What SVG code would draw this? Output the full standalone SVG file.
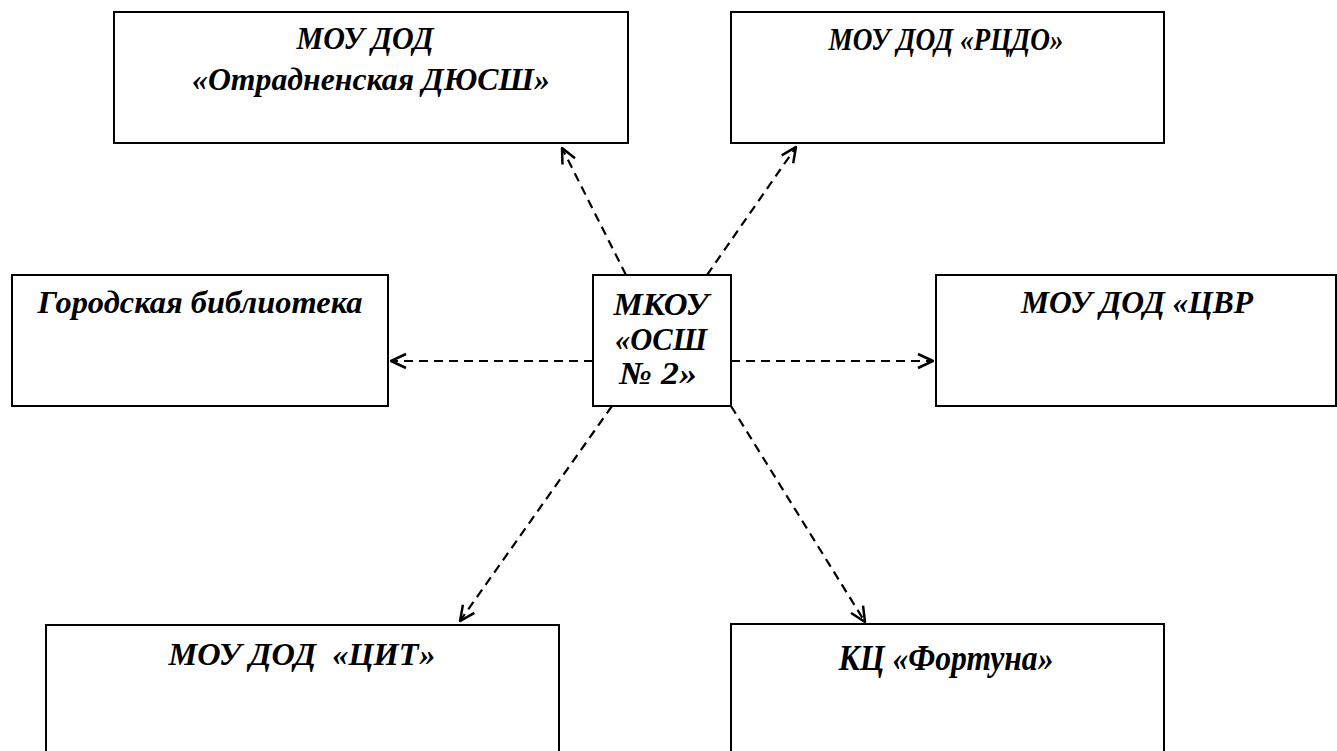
<svg xmlns="http://www.w3.org/2000/svg" width="1337" height="751" viewBox="0 0 1337 751">
<style>
.box{fill:#fff;stroke:#000;stroke-width:2}
.t{font-family:"Liberation Serif","Times New Roman",serif;font-weight:bold;font-style:italic;font-size:32px;text-anchor:middle;fill:#000}
.big{font-size:35px}
.c{fill:none;stroke:#000;stroke-width:2.2;stroke-dasharray:9 6}
</style>
<defs>
<marker id="ah" viewBox="0 0 18 18" refX="17" refY="9" markerWidth="18" markerHeight="18" markerUnits="userSpaceOnUse" orient="auto">
<path d="M2,2 L17,9 L2,16" fill="none" stroke="#000" stroke-width="2.5"/>
</marker>
</defs>
<rect width="1337" height="751" fill="#fff"/>
<g id="n1"><rect class="box" x="114" y="12" width="514" height="131"/><text class="t" x="365" y="49" textLength="137" lengthAdjust="spacingAndGlyphs">МОУ ДОД</text><text class="t" x="371" y="90" textLength="358" lengthAdjust="spacingAndGlyphs">«Отрадненская ДЮСШ»</text></g>
<g id="n2"><rect class="box" x="731" y="12" width="433" height="131"/><text class="t" x="946" y="50" textLength="235" lengthAdjust="spacingAndGlyphs">МОУ ДОД «РЦДО»</text></g>
<g id="n3"><rect class="box" x="12" y="275" width="376" height="131"/><text class="t" x="200" y="313" textLength="325" lengthAdjust="spacingAndGlyphs">Городская библиотека</text></g>
<g id="n4"><rect class="box" x="593" y="275" width="138" height="131"/><text class="t" x="661" y="315" textLength="95" lengthAdjust="spacingAndGlyphs">МКОУ</text><text class="t" x="661" y="350" textLength="92" lengthAdjust="spacingAndGlyphs">«ОСШ</text><text class="t" x="658" y="384" textLength="78" lengthAdjust="spacingAndGlyphs">№ 2»</text></g>
<g id="n5"><rect class="box" x="936" y="275" width="400" height="131"/><text class="t" x="1137" y="313" textLength="232" lengthAdjust="spacingAndGlyphs">МОУ ДОД «ЦВР</text></g>
<g id="n6"><rect class="box" x="46" y="625" width="513" height="140"/><text class="t" x="302" y="665" textLength="267" lengthAdjust="spacingAndGlyphs" xml:space="preserve">МОУ ДОД  «ЦИТ»</text></g>
<g id="n7"><rect class="box" x="731" y="624" width="433" height="140"/><text class="t big" x="946" y="670" textLength="215" lengthAdjust="spacingAndGlyphs">КЦ «Фортуна»</text></g>
<g id="connectors">
<line class="c" x1="593" y1="361" x2="391" y2="361" marker-end="url(#ah)"/>
<line class="c" x1="731" y1="361" x2="933" y2="361" marker-end="url(#ah)"/>
<line class="c" x1="626" y1="275" x2="562" y2="148" marker-end="url(#ah)"/>
<line class="c" x1="707" y1="275" x2="796" y2="147" marker-end="url(#ah)"/>
<line class="c" x1="612" y1="406" x2="460" y2="621" marker-end="url(#ah)"/>
<line class="c" x1="731" y1="406" x2="865" y2="622" marker-end="url(#ah)"/>
</g>
</svg>
